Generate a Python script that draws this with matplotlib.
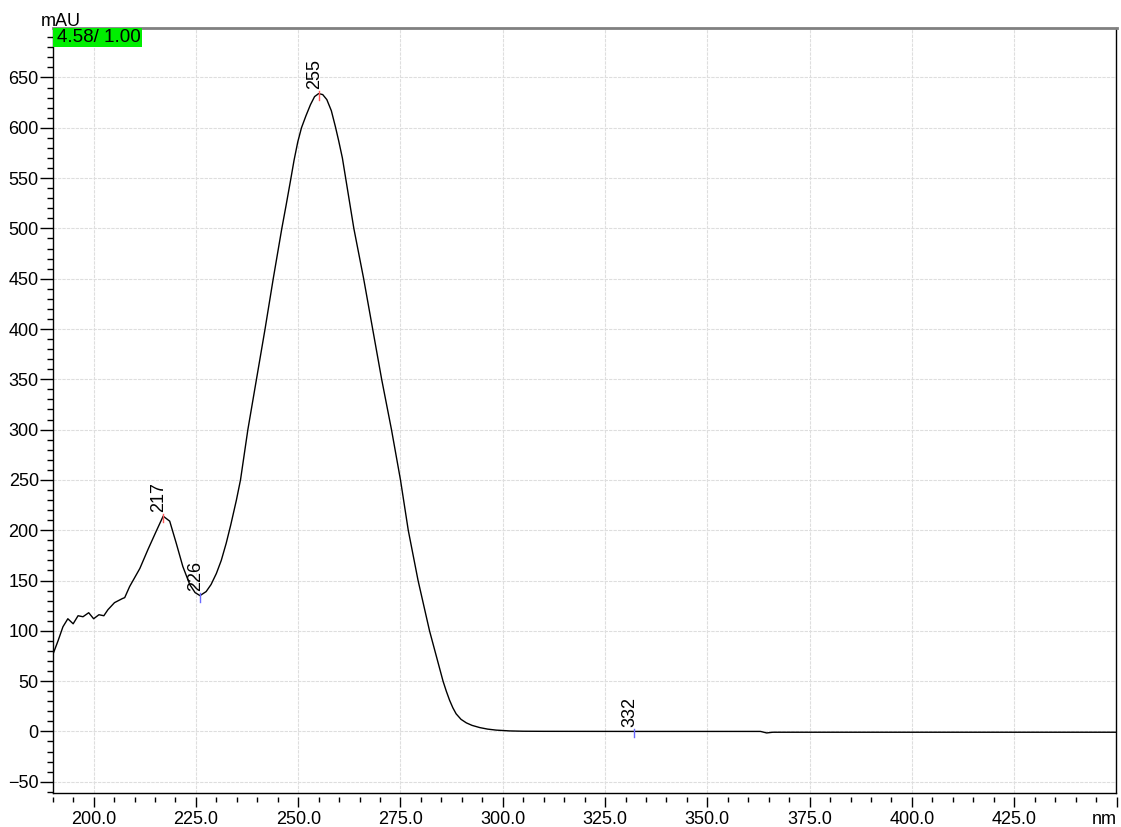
import matplotlib
matplotlib.use("Agg")
import matplotlib.pyplot as plt
from matplotlib.patches import Rectangle
from matplotlib.lines import Line2D
from matplotlib.ticker import MultipleLocator, FixedLocator

plt.rcParams['font.family'] = ['Liberation Sans', 'DejaVu Sans']

# UV spectrum (wavelength in nm, absorbance in mAU)
wavelength = [190.0, 191.3, 192.5, 193.7, 195.0, 196.2, 197.4, 198.8, 200.0, 201.3,
              202.5, 203.5, 205.1, 207.0, 207.6, 208.8, 211.3, 213.3, 215.3, 217.0,
              218.6, 220.2, 221.8, 223.5, 224.8, 226.0, 227.5, 228.7, 230.0, 231.2,
              232.4, 233.5, 234.9, 235.9, 237.7, 239.8, 241.9, 243.9, 246.0, 247.0,
              248.1, 249.0, 249.9, 250.8, 251.9, 253.0, 254.0, 255.0, 256.0, 257.0,
              258.1, 259.1, 259.9, 260.8, 261.6, 262.4, 263.6, 266.0, 268.2, 270.4,
              272.8, 275.0, 276.9, 279.3, 282.1, 285.4, 286.2, 287.0, 287.8, 288.6,
              289.8, 291.1, 292.5, 294.4, 296.3, 298.4, 301.7, 305.0, 310.0, 332.0,
              363.0, 364.5, 366.0, 450.0]
absorbance = [76, 90, 104, 112, 107, 115, 114, 118, 112, 116,
              115, 121, 128, 132, 133, 144, 162, 181, 199, 214,
              209, 187, 164, 146, 138, 135, 139, 146, 157, 170,
              187, 205, 230, 250, 300, 350, 400, 450, 500, 522,
              547, 568, 586, 600, 612, 623, 631, 634, 633, 628,
              617, 601, 587, 570, 550, 530, 500, 450, 400, 350,
              300, 250, 200, 150, 100, 50, 40, 31, 23.5, 17.5,
              12, 8.5, 6, 3.8, 2.3, 1.3, 0.5, 0.2, 0.1, 0,
              0, -1.5, -0.8, -0.8]

# Detected maxima and minima
peak_wl = [217, 255]
peak_abs = [214, 634]
valley_wl = [226, 332]
valley_abs = [135, 0]

x_major = [200, 225, 250, 275, 300, 325, 350, 375, 400, 425, 450]
x_labels = ['200.0', '225.0', '250.0', '275.0', '300.0', '325.0', '350.0',
            '375.0', '400.0', '425.0', 'nm']

FS = 13

W, H = 1121, 827
fig = plt.figure(figsize=(W / 100, H / 100), dpi=100)
L, R, T, B = 52.7, 1116.5, 27.7, 793.3
ax = fig.add_axes([L / W, 1 - B / H, (R - L) / W, (B - T) / H])

ax.plot(wavelength, absorbance, color='black', lw=1.0, zorder=3)

ax.set_xlim(190, 450)
ax.set_ylim(-61.5, 699.5)

# grid
for gx in x_major[:-1]:
    ax.axvline(gx, color='#dedede', lw=0.8, ls=(0, (3, 1)), zorder=1)
for gy in range(-50, 651, 50):
    ax.axhline(gy, color='#dedede', lw=0.8, ls=(0, (3, 1)), zorder=1)

# peak / valley markers and labels
def mark(xs, ys, col):
    for xv, yv in zip(xs, ys):
        ax.plot([xv, xv], [yv - 6, yv + 2.5], color=col, lw=1.0, zorder=4)
        ax.annotate(str(xv), xy=(xv, yv), xytext=(-3, 3), textcoords='offset points',
                    rotation=90, ha='center', va='bottom', fontsize=FS, zorder=5)

mark(peak_wl, peak_abs, '#ff5a5a')
mark(valley_wl, valley_abs, '#6a6aff')

# axes frame
ax.spines['top'].set_color('#808080')
ax.spines['top'].set_linewidth(2.0)
ax.spines['left'].set_linewidth(1.0)
ax.spines['right'].set_linewidth(1.0)
ax.spines['bottom'].set_position(('outward', 2.5))
ax.spines['bottom'].set_visible(False)
ax.add_line(Line2D([0, 1], [0, 0], transform=ax.transAxes, color='black',
                   lw=1.0, clip_on=False, zorder=6))

# ticks
ax.xaxis.set_major_locator(FixedLocator(x_major))
ax.set_xticklabels(x_labels)
ax.xaxis.set_minor_locator(MultipleLocator(5))
ax.set_yticks(list(range(-50, 651, 50)))
ax.yaxis.set_minor_locator(MultipleLocator(10))
ax.tick_params(axis='x', which='major', direction='out', length=7.5, width=1.0,
               pad=3, labelsize=FS)
ax.tick_params(axis='x', which='minor', direction='out', length=3.8, width=1.0)
ax.tick_params(axis='y', which='major', direction='out', length=9.5, width=1.0,
               pad=0.5, labelsize=FS)
ax.tick_params(axis='y', which='minor', direction='out', length=4.5, width=1.0)
ax.get_xticklabels()[-1].set_horizontalalignment('right')

# units and scale badge
fig.text(61 / W, 1 - 26 / H, 'mAU', ha='center', va='baseline', fontsize=FS)
fig.patches.append(Rectangle((L / W, 1 - 47.3 / H), 89 / W, 19.6 / H,
                             transform=fig.transFigure, facecolor='#00ee00',
                             edgecolor='none', zorder=10))
fig.text(57 / W, 1 - 38 / H, '4.58/ 1.00', ha='left', va='center', fontsize=13.5,
         zorder=11)

fig.savefig('out.png', dpi=100)
